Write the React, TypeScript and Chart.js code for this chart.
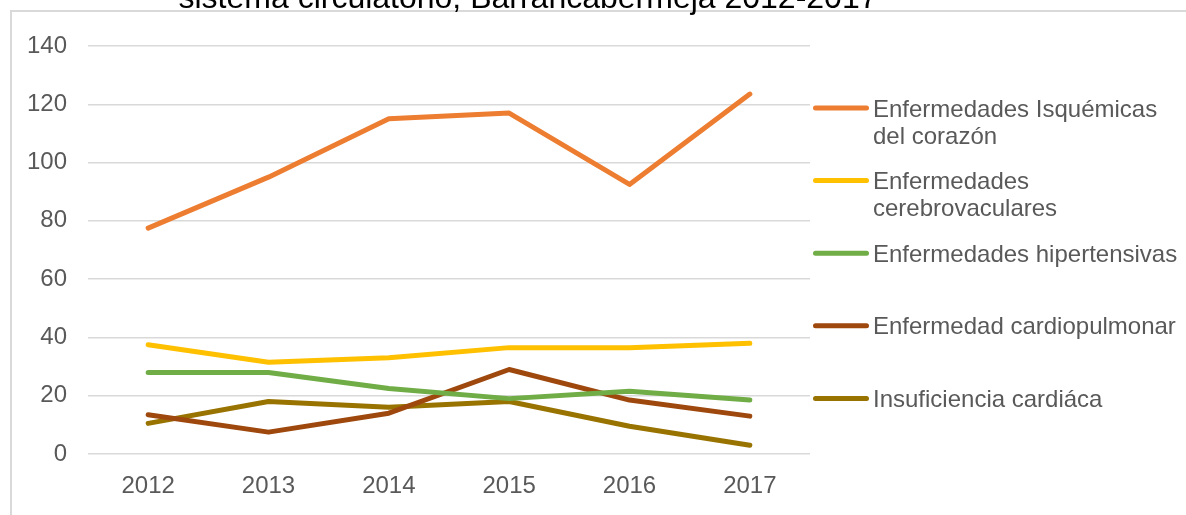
import React, { useEffect, useRef } from "react";
import { Chart, registerables } from "chart.js";

Chart.register(...registerables);

const years = ["2012", "2013", "2014", "2015", "2016", "2017"];
const isquemicas = [77.5, 95, 115, 117, 92.5, 123.5];
const cerebrovasculares = [37.5, 31.5, 33, 36.5, 36.5, 38];
const hipertensivas = [28, 28, 22.5, 19, 21.5, 18.5];
const cardiopulmonar = [13.5, 7.5, 14, 29, 18.5, 13];
const insuficiencia = [10.5, 18, 16, 18, 9.5, 3];

const seriesNames = [
  "Enfermedades Isquémicas del corazón",
  "Enfermedades cerebrovaculares",
  "Enfermedades hipertensivas",
  "Enfermedad cardiopulmonar",
  "Insuficiencia cardiáca",
];
const seriesColors = ["#ED7D31", "#FFC000", "#70AD47", "#9E480E", "#997300"];
const titleText = "sistema circulatorio, Barrancabermeja 2012-2017";

const FONT = '"Liberation Sans", Arial, sans-serif';
const TEXT_COLOR = "#595959";
const GRID_COLOR = "#d9d9d9";

function wrapText(ctx: CanvasRenderingContext2D, text: string, maxWidth: number): string[] {
  const words = text.split(" ");
  const lines: string[] = [];
  let cur = "";
  for (const w of words) {
    const test = cur ? cur + " " + w : w;
    if (cur && ctx.measureText(test).width > maxWidth) {
      lines.push(cur);
      cur = w;
    } else {
      cur = test;
    }
  }
  if (cur) lines.push(cur);
  return lines;
}

const decorPlugin = {
  id: "decor",
  beforeDraw(chart: any) {
    const ctx = chart.ctx as CanvasRenderingContext2D;
    ctx.save();
    ctx.fillStyle = "#ffffff";
    ctx.fillRect(0, 0, chart.width, chart.height);
    ctx.strokeStyle = GRID_COLOR;
    ctx.lineWidth = 2;
    ctx.beginPath();
    ctx.moveTo(11, chart.height);
    ctx.lineTo(11, 11);
    ctx.lineTo(chart.width, 11);
    ctx.stroke();
    ctx.fillStyle = "#000000";
    ctx.font = `32px ${FONT}`;
    ctx.textAlign = "center";
    ctx.textBaseline = "alphabetic";
    ctx.fillText(titleText, 528, 8);
    ctx.restore();
  },
  afterDraw(chart: any) {
    const ctx = chart.ctx as CanvasRenderingContext2D;
    const area = chart.chartArea;
    ctx.save();
    ctx.font = `24px ${FONT}`;
    ctx.textAlign = "left";
    ctx.textBaseline = "alphabetic";
    const startY = 108;
    const step = 72.6;
    chart.data.datasets.forEach((ds: any, i: number) => {
      const y = startY + i * step;
      const x0 = area.right + 3;
      ctx.strokeStyle = ds.borderColor;
      ctx.lineWidth = 5;
      ctx.lineCap = "round";
      ctx.beginPath();
      ctx.moveTo(x0 + 2.5, y);
      ctx.lineTo(x0 + 53.5, y);
      ctx.stroke();
      ctx.fillStyle = TEXT_COLOR;
      const lines = wrapText(ctx, ds.label, 312);
      lines.forEach((ln, j) => {
        ctx.fillText(ln, x0 + 60, y + 8.6 + j * 27);
      });
    });
    ctx.restore();
  },
};

export default function App() {
  const canvasRef = useRef<HTMLCanvasElement | null>(null);

  useEffect(() => {
    if (!canvasRef.current) return;
    const seriesData = [isquemicas, cerebrovasculares, hipertensivas, cardiopulmonar, insuficiencia];
    const chart = new Chart(canvasRef.current, {
      type: "line",
      data: {
        labels: years,
        datasets: seriesData.map((d, i) => ({
          label: seriesNames[i],
          data: d,
          borderColor: seriesColors[i],
          backgroundColor: seriesColors[i],
          borderWidth: 5,
          borderCapStyle: "round",
          borderJoinStyle: "round",
          pointRadius: 0,
          tension: 0,
          fill: false,
        })),
      },
      options: {
        animation: false,
        responsive: true,
        maintainAspectRatio: false,
        layout: { padding: { top: 46, right: 376, bottom: 0, left: 0 } },
        plugins: {
          legend: { display: false },
          title: { display: false },
          tooltip: { enabled: false },
        },
        scales: {
          x: {
            offset: true,
            grid: { display: false, drawTicks: false, offset: true },
            border: { display: false },
            ticks: {
              color: TEXT_COLOR,
              font: { family: FONT, size: 24 },
              padding: 18,
              maxRotation: 0,
            },
            afterFit(scale: any) {
              scale.height = 61;
            },
          },
          y: {
            min: 0,
            max: 140,
            grid: { color: GRID_COLOR, lineWidth: 1.5, drawTicks: false },
            border: { display: false },
            ticks: {
              stepSize: 20,
              color: TEXT_COLOR,
              font: { family: FONT, size: 24 },
              padding: 21,
            },
            afterFit(scale: any) {
              scale.width = 88;
            },
          },
        },
      },
      plugins: [decorPlugin],
    } as any);
    return () => chart.destroy();
  }, []);

  return (
    <div style={{ position: "absolute", left: 0, top: 0, width: 1186, height: 515 }}>
      <canvas ref={canvasRef} />
    </div>
  );
}
